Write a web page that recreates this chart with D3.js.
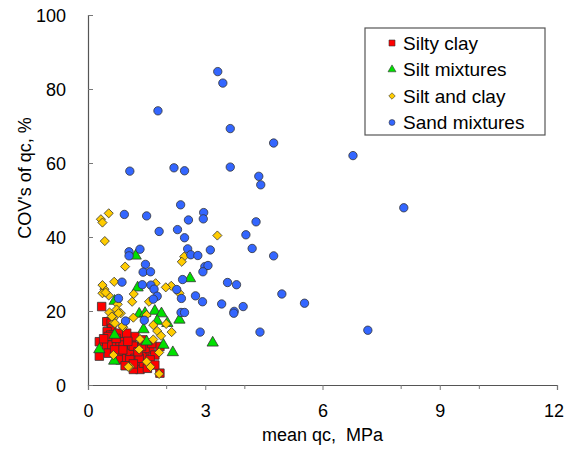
<!DOCTYPE html>
<html>
<head>
<meta charset="utf-8">
<script src="https://cdn.jsdelivr.net/npm/d3@7"></script>
<style>
  body { margin: 0; background: #fff; }
  svg text { font-family: "Liberation Sans", Arial, sans-serif; fill: #000; }
</style>
</head>
<body>
<div id="chart"></div>
<script>
// mean qc (MPa), COV (%)
var siltyClay = [[0.35,21.2],[0.52,17.1],[0.48,17.1],[0.59,16.7],[0.61,15.3],[0.49,14.4],[0.65,13.5],[0.58,13.5],
  [0.52,13.1],[0.29,11.7],[0.48,10.8],[0.61,10.8],[0.73,10.4],[0.29,7.8],[0.52,8.6],[0.82,11.7],[0.90,10.8],
  [0.95,9.0],[0.86,8.1],[0.82,6.8],[0.99,7.2],[1.07,9.0],[1.12,10.8],[1.20,13.1],[1.20,7.2],[1.25,5.4],[1.33,4.2],
  [1.42,5.9],[1.16,4.2],[1.46,8.1],[1.59,9.5],[1.71,8.1],[1.59,6.8],[1.84,10.4],[1.84,3.2],[0.78,14.0],[0.72,12.6],
  [0.99,14.0],[0.89,9.5],[1.07,6.8],[1.31,7.2],[1.46,9.9],[1.37,10.4],[1.16,10.5],[1.71,5.4],[1.16,5.7],
  [0.40,12.5],[0.68,9.5],[1.02,11.8],[1.28,9.0],[1.52,4.5],[1.40,12.2],[0.95,5.2],[1.63,11.2]];
var siltMixtures = [[1.22,34.9],[2.61,28.8],[1.27,26.3],[0.68,22.7],[1.71,20.0],[1.88,19.3],[1.31,19.2],[2.34,17.6],
  [2.03,16.7],[1.77,17.3],[1.42,15.0],[0.68,13.5],[1.50,11.7],[1.93,10.8],[0.29,9.6],[2.17,8.8],[0.67,6.5],
  [3.19,11.4],[1.46,19.4]];
var siltAndClay = [[0.53,46.4],[0.33,44.8],[0.37,43.9],[0.43,38.9],[0.95,32.0],[2.46,34.7],[2.40,33.3],[3.31,40.4],
  [2.13,26.8],[2.34,24.8],[2.14,14.3],[0.67,27.9],[0.42,25.9],[0.37,24.8],[0.53,24.2],[1.17,24.6],[1.13,22.5],
  [1.56,22.5],[1.73,27.5],[1.99,26.4],[0.76,21.8],[0.73,20.4],[0.84,19.4],[0.55,19.6],[0.65,18.0],[1.16,18.2],
  [1.50,18.9],[0.65,16.8],[0.90,15.6],[1.67,16.2],[1.77,14.6],[2.0,16.5],[1.87,13.3],[1.33,12.4],[1.67,12.3],
  [1.31,9.6],[1.82,8.8],[0.65,8.1],[1.50,6.3],[1.60,4.9],[1.07,4.9],[1.82,3.0],[0.37,27.0],[0.45,25.0],[0.61,18.5],
  [0.78,19.4],[0.69,16.7],[0.88,15.9],[1.03,4.9]];
var sandMixtures = [[3.32,84.7],[3.45,81.6],[1.79,74.1],[3.64,69.3],[4.75,65.4],[6.78,62.0],[2.20,58.7],[2.47,57.9],
  [3.64,58.9],[1.07,57.8],[4.37,56.4],[4.42,54.1],[2.37,48.7],[8.08,47.9],[2.96,46.6],[2.57,44.6],[2.95,44.9],
  [4.30,44.1],[2.29,42.0],[2.47,39.8],[4.04,40.6],[4.20,36.9],[4.75,34.9],[2.55,36.8],[2.63,35.2],[2.81,35.0],
  [3.13,36.5],[2.99,32.0],[3.07,32.3],[2.94,30.6],[2.42,28.5],[3.57,27.7],[3.80,27.1],[4.96,24.6],[5.54,22.1],
  [2.27,25.8],[2.39,23.4],[2.75,24.1],[2.93,22.5],[3.42,21.9],[3.97,21.2],[2.38,19.6],[2.47,19.6],[3.74,19.9],
  [3.73,19.4],[2.87,14.3],[4.40,14.3],[7.16,14.8],[0.93,46.1],[1.50,45.7],[1.82,41.5],[1.33,36.7],[1.05,36.0],
  [1.05,34.9],[1.47,32.6],[1.41,30.5],[1.60,30.6],[0.87,27.8],[1.39,27.1],[1.61,27.0],[1.69,25.9],[1.77,24.0],
  [0.78,23.4],[0.96,17.3],[1.44,17.5],[1.67,23.2]];

var seriesNames = ["Silty clay", "Silt mixtures", "Silt and clay", "Sand mixtures"];
var xTicksMajor = [0, 3, 6, 9, 12];
var xTicksMinor = [2, 4, 8, 10];
var yTicks = [0, 20, 40, 60, 80, 100];

var width = 565, height = 454;
var margin = {top: 15, right: 8, bottom: 69, left: 88};

var svg = d3.select("#chart").append("svg")
    .attr("width", width)
    .attr("height", height);

var x = d3.scaleLinear().domain([0, 12]).range([margin.left, width - margin.right]);
var y = d3.scaleLinear().domain([0, 100]).range([height - margin.bottom, margin.top]);

// diamond = square turned 45 degrees
var squareDiamond = {
  draw: function(context, size) {
    var r = Math.sqrt(size / 2);
    context.moveTo(0, -r);
    context.lineTo(r, 0);
    context.lineTo(0, r);
    context.lineTo(-r, 0);
    context.closePath();
  }
};

var series = [
  {name: seriesNames[0], data: siltyClay, shape: d3.symbolSquare, size: 72, fill: "#ff0000"},
  {name: seriesNames[1], data: siltMixtures, shape: d3.symbolTriangle, size: 55, fill: "#00e000"},
  {name: seriesNames[2], data: siltAndClay, shape: squareDiamond, size: 42, fill: "#ffcc00"},
  {name: seriesNames[3], data: sandMixtures, shape: d3.symbolCircle, size: 55, fill: "#3366ff"}
];

// axes
var xAxis = d3.axisBottom(x).tickValues(xTicksMajor).tickSize(5).tickPadding(14).tickFormat(d3.format("d"));
var xMinor = d3.axisBottom(x).tickValues(xTicksMinor).tickSize(4).tickFormat("");
var yAxis = d3.axisLeft(y).tickValues(yTicks).tickSize(-5).tickPadding(22).tickFormat(d3.format("d"));

var gx = svg.append("g")
    .attr("transform", "translate(0," + y(0) + ")")
    .call(xAxis);
svg.append("g")
    .attr("transform", "translate(0," + y(0) + ")")
    .call(xMinor)
    .select(".domain").remove();
var gy = svg.append("g")
    .attr("transform", "translate(" + x(0) + ",0)")
    .call(yAxis);

svg.selectAll(".domain").attr("stroke", "#555").attr("stroke-width", 1.2);
svg.selectAll(".tick line").attr("stroke", "#777");
gx.selectAll("text").style("font-size", "18px")
    .attr("dx", function(d) { return d === 12 ? "-0.2em" : null; });
gy.selectAll("text").style("font-size", "18px").attr("dy", "0.35em");

svg.append("text")
    .attr("x", (x(0) + x(12)) / 2)
    .attr("y", 441)
    .attr("text-anchor", "middle")
    .style("font-size", "18px")
    .text("mean qc,\u00a0 MPa");

svg.append("text")
    .attr("transform", "translate(31,178) rotate(-90)")
    .attr("text-anchor", "middle")
    .style("font-size", "18px")
    .text("COV's of qc, %");

// points
series.forEach(function(s) {
  svg.append("g").selectAll("path")
      .data(s.data)
      .enter().append("path")
      .attr("transform", function(d) { return "translate(" + x(d[0]) + "," + y(d[1]) + ")"; })
      .attr("d", d3.symbol().type(s.shape).size(s.size))
      .attr("fill", s.fill)
      .attr("stroke", "#333")
      .attr("stroke-width", 0.8);
});

// legend
var legend = svg.append("g").attr("transform", "translate(365,28)");
legend.append("rect")
    .attr("width", 180).attr("height", 107)
    .attr("fill", "#fff").attr("stroke", "#555").attr("stroke-width", 1.2);
var items = legend.selectAll(".item")
    .data(series)
    .enter().append("g")
    .attr("transform", function(d, i) { return "translate(27," + (15 + i * 26.5) + ")"; });
items.append("path")
    .attr("d", function(d) { return d3.symbol().type(d.shape).size(d.size * 0.5)(); })
    .attr("fill", function(d) { return d.fill; })
    .attr("stroke", "#333").attr("stroke-width", 0.6);
items.append("text")
    .attr("x", 11)
    .attr("dy", "0.36em")
    .style("font-size", "19px")
    .text(function(d) { return d.name; });
</script>
</body>
</html>
